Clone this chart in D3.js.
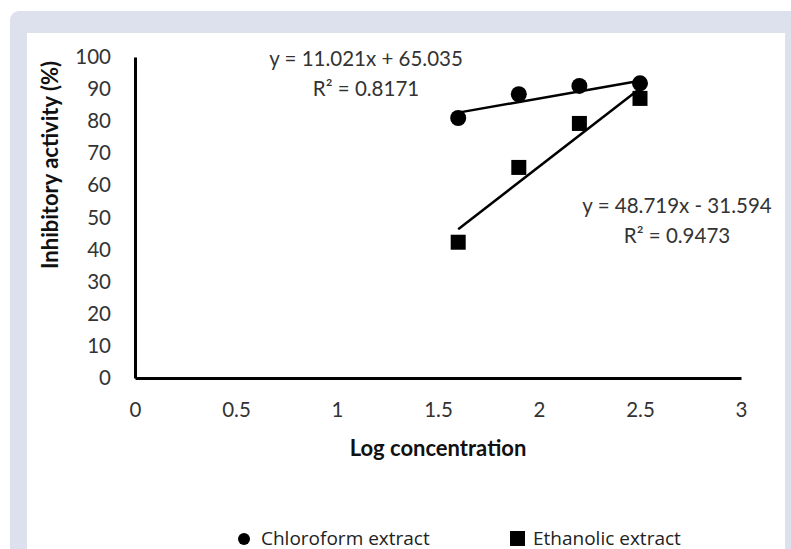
<!DOCTYPE html>
<html>
<head>
<meta charset="utf-8">
<script src="https://cdn.jsdelivr.net/npm/d3@7"></script>
<style>
body { margin: 0; background: #fff; }
.tick text { font-family: Lato, sans-serif; font-size: 20.5px; fill: #333; }
.eq-text { font-family: Lato, sans-serif; font-size: 20.5px; fill: #333; }
.title-text { font-family: Lato, sans-serif; font-size: 22px; font-weight: bold; fill: #111; }
.legend-text { font-family: "Open Sans", sans-serif; font-size: 19px; fill: #222; }
</style>
</head>
<body>
<script>
var W = 791, H = 549;
var margin = {top: 57, right: 50, bottom: 171, left: 135}
    , width = 741 - margin.left
    , height = 378 - margin.top;

// data
var logConc = [1.6, 1.9, 2.2, 2.5];
var chloroform = [81.0, 88.4, 91.0, 91.8];
var ethanolic = [42.3, 65.6, 79.3, 87.1];
var xTicks = [0, 0.5, 1, 1.5, 2, 2.5, 3];
var yTicks = [0, 10, 20, 30, 40, 50, 60, 70, 80, 90, 100];
var seriesNames = ["Chloroform extract", "Ethanolic extract"];
// trendline as printed on the chart
var slopes = [11.021, 48.719];
var intercepts = [65.035, -31.594];
var eqLabels = [["y = 11.021x + 65.035", "R² = 0.8171"], ["y = 48.719x - 31.594", "R² = 0.9473"]];

var svg = d3.select("body").append("svg")
    .attr("width", W)
    .attr("height", H);

// frame
svg.append("rect")
    .attr("x", 10).attr("y", 11)
    .attr("width", W).attr("height", H)
    .attr("rx", 9)
    .attr("fill", "#dde1ee");
svg.append("rect")
    .attr("x", 27).attr("y", 33)
    .attr("width", 785 - 27).attr("height", H)
    .attr("fill", "#fff");

var g = svg.append("g")
    .attr("transform", "translate(" + margin.left + "," + margin.top + ")");

var xScale = d3.scaleLinear().domain([0, 3]).range([0, width]);
var yScale = d3.scaleLinear().domain([0, 100]).range([height, 0]);

var xAxis = g.append("g")
    .attr("transform", "translate(0," + height + ")")
    .call(d3.axisBottom(xScale).tickValues(xTicks).tickFormat(d3.format("~g"))
        .tickSize(0).tickPadding(22));
var yAxis = g.append("g")
    .call(d3.axisLeft(yScale).tickValues(yTicks).tickSize(0).tickPadding(24));

[xAxis, yAxis].forEach(function(a) {
    a.select(".domain").attr("stroke", "#000").attr("stroke-width", 3);
});
xAxis.selectAll(".tick text").attr("dy", "0.35em").attr("y", 32);

// trendlines
var line = d3.line()
    .x(function(d) { return xScale(d[0]); })
    .y(function(d) { return yScale(d[1]); });
var xMin = d3.min(logConc), xMax = d3.max(logConc);
slopes.forEach(function(s, i) {
    g.append("path")
        .attr("d", line([[xMin, s * xMin + intercepts[i]], [xMax, s * xMax + intercepts[i]]]))
        .attr("stroke", "#000")
        .attr("stroke-width", 2.5)
        .attr("fill", "none");
});

// points
g.selectAll(".dot")
    .data(logConc.map(function(x, i) { return [x, chloroform[i]]; }))
    .enter()
    .append("circle")
    .attr("cx", function(d) { return xScale(d[0]); })
    .attr("cy", function(d) { return yScale(d[1]); })
    .attr("r", 8)
    .attr("fill", "#000");

var sq = 15;
g.selectAll(".sq")
    .data(logConc.map(function(x, i) { return [x, ethanolic[i]]; }))
    .enter()
    .append("rect")
    .attr("x", function(d) { return xScale(d[0]) - sq / 2; })
    .attr("y", function(d) { return yScale(d[1]) - sq / 2; })
    .attr("width", sq).attr("height", sq)
    .attr("fill", "#000");

// equation labels
var eqPos = [[366, 66], [677, 213]];
eqLabels.forEach(function(lines, i) {
    lines.forEach(function(t, j) {
        svg.append("text")
            .attr("class", "eq-text")
            .attr("x", eqPos[i][0])
            .attr("y", eqPos[i][1] + j * 30)
            .attr("text-anchor", "middle")
            .text(t);
    });
});

// axis titles
svg.append("text")
    .attr("class", "title-text")
    .attr("x", 438)
    .attr("y", 456)
    .attr("text-anchor", "middle")
    .text("Log concentration");

svg.append("text")
    .attr("class", "title-text")
    .attr("transform", "translate(58,165) rotate(-90)")
    .attr("text-anchor", "middle")
    .text("Inhibitory activity (%)");

// legend
svg.append("circle")
    .attr("cx", 244).attr("cy", 539).attr("r", 6).attr("fill", "#000");
svg.append("rect")
    .attr("x", 510).attr("y", 531).attr("width", 15).attr("height", 15).attr("fill", "#000");
svg.selectAll(".legend-text")
    .data(seriesNames)
    .enter()
    .append("text")
    .attr("class", "legend-text")
    .attr("x", function(d, i) { return i === 0 ? 261 : 533; })
    .attr("y", 545)
    .text(function(d) { return d; });
</script>
</body>
</html>
